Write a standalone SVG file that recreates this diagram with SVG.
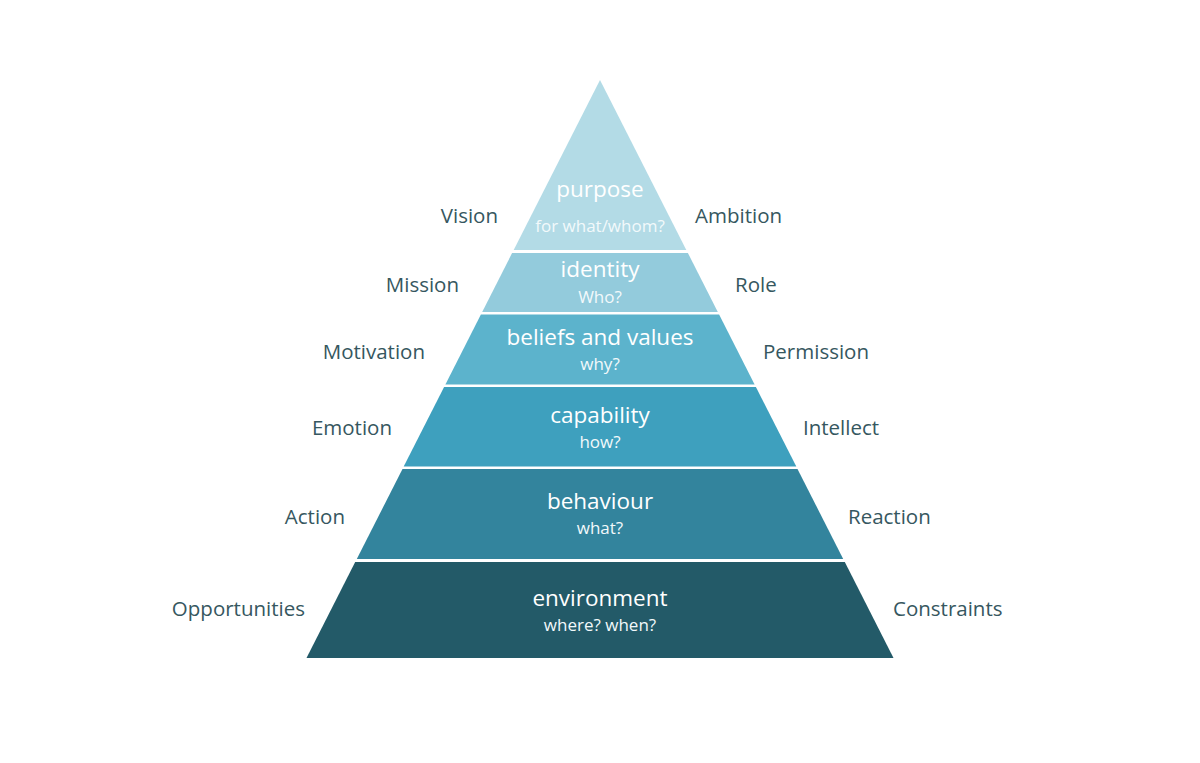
<svg xmlns="http://www.w3.org/2000/svg" width="1200" height="763" viewBox="0 0 1200 763">
<style>
.t{font-family:"Open Sans","Noto Sans",sans-serif;text-anchor:middle;fill:#ffffff}
.m{font-size:22.5px}
.s{font-size:17px;fill:#f2f9fb}
.side{font-family:"Open Sans","Noto Sans",sans-serif;font-size:20.5px;fill:#365760}
.l{text-anchor:end}
</style>
<rect width="1200" height="763" fill="#ffffff"/>
<g id="purpose">
<polygon points="600,80 686.3,250 513.7,250" fill="#b3dbe6"/>
<text class="t m" x="600" y="197">purpose</text>
<text class="t s" x="600" y="232">for what/whom?</text>
</g>
<g id="identity">
<polygon points="512.1,253 687.9,253 717.8,312 482.2,312" fill="#93cbdc"/>
<text class="t m" x="600" y="277">identity</text>
<text class="t s" x="600" y="303">Who?</text>
</g>
<g id="beliefs">
<polygon points="480.9,314.5 719.1,314.5 754.6,384.5 445.4,384.5" fill="#5cb3cc"/>
<text class="t m" x="600" y="344.5">beliefs and values</text>
<text class="t s" x="600" y="370">why?</text>
</g>
<g id="capability">
<polygon points="444.1,387 755.9,387 796.3,466.5 403.7,466.5" fill="#3ea0be"/>
<text class="t m" x="600" y="422.5">capability</text>
<text class="t s" x="600" y="448">how?</text>
</g>
<g id="behaviour">
<polygon points="402.5,469 797.5,469 843.2,559 356.8,559" fill="#33849d"/>
<text class="t m" x="600" y="508.5">behaviour</text>
<text class="t s" x="600" y="534">what?</text>
</g>
<g id="environment">
<polygon points="355.2,562 844.8,562 893.5,658 306.5,658" fill="#235a68"/>
<text class="t m" x="600" y="606">environment</text>
<text class="t s" x="600" y="631">where? when?</text>
</g>
<g id="left-labels">
<text class="side l" x="498" y="223">Vision</text>
<text class="side l" x="459" y="292">Mission</text>
<text class="side l" x="425" y="359">Motivation</text>
<text class="side l" x="392" y="435">Emotion</text>
<text class="side l" x="345" y="524">Action</text>
<text class="side l" x="305" y="616">Opportunities</text>
</g>
<g id="right-labels">
<text class="side" x="695" y="223">Ambition</text>
<text class="side" x="735" y="292">Role</text>
<text class="side" x="763" y="359">Permission</text>
<text class="side" x="803" y="435">Intellect</text>
<text class="side" x="848" y="524">Reaction</text>
<text class="side" x="893" y="616">Constraints</text>
</g>
<g id="connectors"></g>
</svg>
